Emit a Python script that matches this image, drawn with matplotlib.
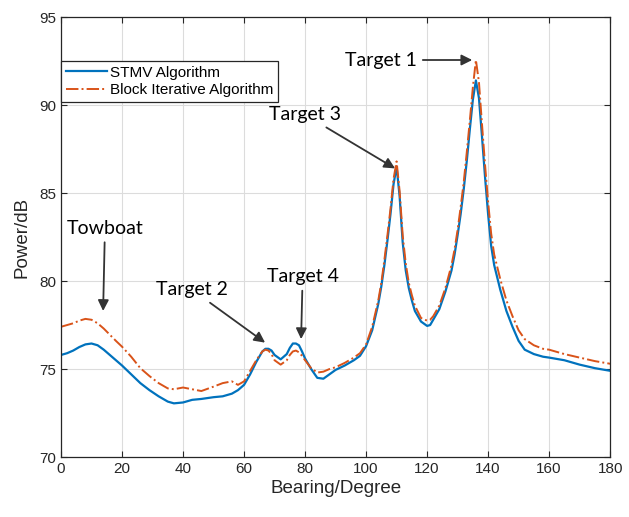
import matplotlib.pyplot as plt

# --- Data ---
bearing = [0, 2, 4, 6, 8, 10, 12, 14, 16, 18,
           20, 23, 26, 29, 32, 35, 37, 40, 43, 46,
           50, 53, 56, 58, 60, 62, 64, 66, 67, 68,
           69, 70, 72, 74, 75, 76, 77, 78, 79, 80,
           82, 84, 86, 88, 90, 93, 96, 98, 100, 102,
           104, 105, 106, 107, 108, 109, 110, 111, 112, 113,
           114, 115, 116, 118, 120, 121, 122, 124, 126, 128,
           129, 130, 131, 132, 133, 134, 135, 136, 137, 138,
           139, 140, 141, 142, 144, 146, 148, 150, 152, 155,
           158, 160, 165, 170, 175, 180]

stmv = [75.8, 75.9, 76.05, 76.25, 76.4, 76.45, 76.35, 76.1, 75.8, 75.5,
        75.2, 74.7, 74.2, 73.8, 73.45, 73.15, 73.05, 73.1, 73.25, 73.3,
        73.4, 73.45, 73.6, 73.8, 74.1, 74.7, 75.4, 76.0, 76.15, 76.15,
        76.05, 75.8, 75.55, 75.85, 76.2, 76.45, 76.45, 76.35, 76.0, 75.6,
        75.0, 74.5, 74.45, 74.7, 74.95, 75.2, 75.5, 75.75, 76.3, 77.2,
        78.7, 79.7, 80.9, 82.3, 83.8, 85.5, 86.5, 84.8, 82.2, 80.6,
        79.6, 78.9, 78.3, 77.7, 77.45, 77.5, 77.8, 78.4, 79.4, 80.6,
        81.5, 82.6, 83.8, 85.2, 86.8, 88.6, 90.3, 91.4, 90.4, 88.2,
        85.9, 83.8, 82.0, 80.9, 79.5, 78.3, 77.4, 76.6, 76.1, 75.85,
        75.7, 75.65, 75.5, 75.25, 75.05, 74.9]

block = [77.4, 77.5, 77.6, 77.75, 77.85, 77.8, 77.6, 77.3, 76.95, 76.6,
         76.27, 75.7, 75.05, 74.6, 74.2, 73.9, 73.85, 73.95, 73.85, 73.75,
         74.0, 74.2, 74.3, 74.1, 74.3, 74.9, 75.5, 76.0, 76.1, 76.05,
         75.85, 75.5, 75.25, 75.5, 75.8, 76.0, 76.05, 75.95, 75.75, 75.5,
         75.05, 74.8, 74.85, 75.0, 75.1, 75.35, 75.65, 75.9, 76.4, 77.4,
         78.9, 79.9, 81.2, 82.6, 84.1, 85.8, 86.8, 85.1, 82.6, 81.0,
         79.9, 79.2, 78.6, 77.9, 77.75, 77.8, 78.0, 78.6, 79.6, 80.9,
         81.8, 82.9, 84.2, 85.6, 87.3, 89.1, 91.0, 92.56, 91.3, 88.9,
         86.6, 84.5, 82.7, 81.5, 80.1, 78.9, 78.0, 77.2, 76.7, 76.35,
         76.15, 76.1, 75.85, 75.65, 75.45, 75.3]

# annotations: label, arrow head (x, y), text position (x, y)
labels = ["Towboat", "Target 2", "Target 4", "Target 3", "Target 1"]
heads = [(13.8, 78.3), (66.9, 76.5), (78.7, 76.7), (109.5, 86.4), (134.8, 92.56)]
texts = [(14.4, 83.0), (43.0, 79.5), (79.2, 80.25), (80.0, 89.45), (105.0, 92.56)]

fig = plt.figure(figsize=(6.29, 5.17), dpi=100)
ax = fig.add_axes([0.097, 0.116, 0.873, 0.851])

ax.plot(bearing, stmv, color='#0072BD', lw=1.6, label='STMV Algorithm')
ax.plot(bearing, block, color='#D95319', lw=1.4, ls='-.', label='Block Iterative Algorithm')

ax.set_xlim(0, 180)
ax.set_ylim(70, 95)
ax.set_xticks(range(0, 181, 20))
ax.set_yticks(range(70, 96, 5))
ax.grid(True, color='#dcdcdc', lw=0.8)
ax.tick_params(direction='in', top=True, right=True, labelsize=11, colors='#262626',
               length=4)
for lab in ax.get_xticklabels() + ax.get_yticklabels():
    lab.set_family('Liberation Sans')
for s in ax.spines.values():
    s.set_color('#262626')
    s.set_linewidth(0.9)

ax.set_xlabel('Bearing/Degree', fontsize=13.5, family='Liberation Sans', color='#262626',
              labelpad=3)
ax.set_ylabel('Power/dB', fontsize=13.5, family='Liberation Sans', color='#262626',
              labelpad=6)

leg = ax.legend(loc='upper left', bbox_to_anchor=(0.0, 0.9),
                prop={'family': 'Liberation Sans', 'size': 11}, fancybox=False,
                edgecolor='#262626', framealpha=1, handlelength=2.7,
                borderaxespad=0, borderpad=0.3, labelspacing=0.25, handletextpad=0.2)
leg.get_frame().set_linewidth(0.9)

for lab, hd, tp in zip(labels, heads, texts):
    ax.annotate(lab, xy=hd, xytext=tp, ha='center', va='center', fontsize=14,
                family='Lato', color='black',
                arrowprops=dict(arrowstyle='-|>', color='#333333', lw=1.3,
                                mutation_scale=16, shrinkA=2, shrinkB=0))

fig.savefig('out.png', dpi=100)
